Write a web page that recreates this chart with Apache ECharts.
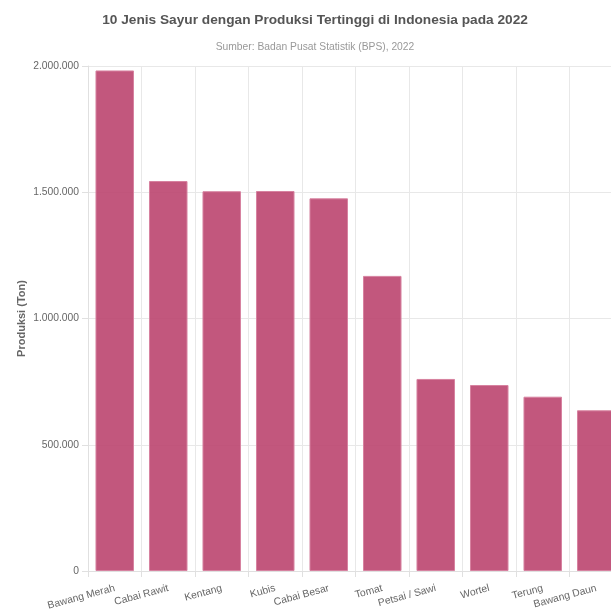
<!DOCTYPE html>
<html><head><meta charset="utf-8">
<script src="https://cdn.jsdelivr.net/npm/echarts@6/dist/echarts.min.js"></script>
<style>html,body{margin:0;padding:0;background:#fff;overflow:hidden;width:611px;height:614px}#c{width:640px;height:614px}</style>
</head><body><div id="c"></div>
<script>
const categories = ['Bawang Merah','Cabai Rawit','Kentang','Kubis','Cabai Besar','Tomat','Petsai / Sawi','Wortel','Terung','Bawang Daun'];
const production = [1982360, 1544441, 1503998, 1505000, 1475821, 1168744, 760608, 736600, 690300, 636400];
const yTicks = [0, 500000, 1000000, 1500000, 2000000];

const fmt = v => String(v).replace(/\B(?=(\d{3})+(?!\d))/g, '.');
const font = 'Liberation Sans, Arial, Helvetica, sans-serif';
const chart = echarts.init(document.getElementById('c'), null, {renderer:'canvas'});
chart.setOption({
  animation:false,
  title:[{text:'10 Jenis Sayur dengan Produksi Tertinggi di Indonesia pada 2022', left:310, textAlign:'center', top:8,
    textStyle:{fontFamily:font,fontSize:13.7,fontWeight:'bold',color:'#555'}},
    {text:'Sumber: Badan Pusat Statistik (BPS), 2022', left:310, textAlign:'center', top:37,
    textStyle:{fontFamily:font,fontSize:10.3,fontWeight:'normal',color:'#999'}}],
  grid:{left:88, top:66, width:535, height:505, containLabel:false, outerBoundsMode:'none'},
  xAxis:{type:'category', data:categories,
    axisLine:{show:true,lineStyle:{color:'#e0e0e0'}},
    axisTick:{show:true,length:6,lineStyle:{color:'#e0e0e0'}},
    splitLine:{show:true,lineStyle:{color:'#e8e8e8'}},
    axisLabel:{rotate:15, interval:0, margin:17, fontFamily:font, fontSize:10.3, color:'#666'}},
  yAxis:{type:'value', min:yTicks[0], max:yTicks[yTicks.length-1], interval:500000,
    name:'Produksi (Ton)', nameLocation:'middle', nameGap:61, nameMoveOverlap:false,
    nameTextStyle:{fontFamily:font,fontSize:11,fontWeight:'bold',color:'#666'},
    axisLine:{show:true,lineStyle:{color:'#e0e0e0'}},
    axisTick:{show:true,length:6,lineStyle:{color:'#e0e0e0'}},
    splitLine:{show:true,lineStyle:{color:'#e8e8e8'}},
    axisLabel:{formatter:v=>fmt(v), margin:9, fontFamily:font, fontSize:10.3, color:'#666'}},
  series:[{type:'bar', data:production, barWidth:'72%',
    itemStyle:{color:'rgba(185,64,107,0.88)', borderColor:'rgba(215,130,160,1)', borderWidth:1}}]
});
</script></body></html>
